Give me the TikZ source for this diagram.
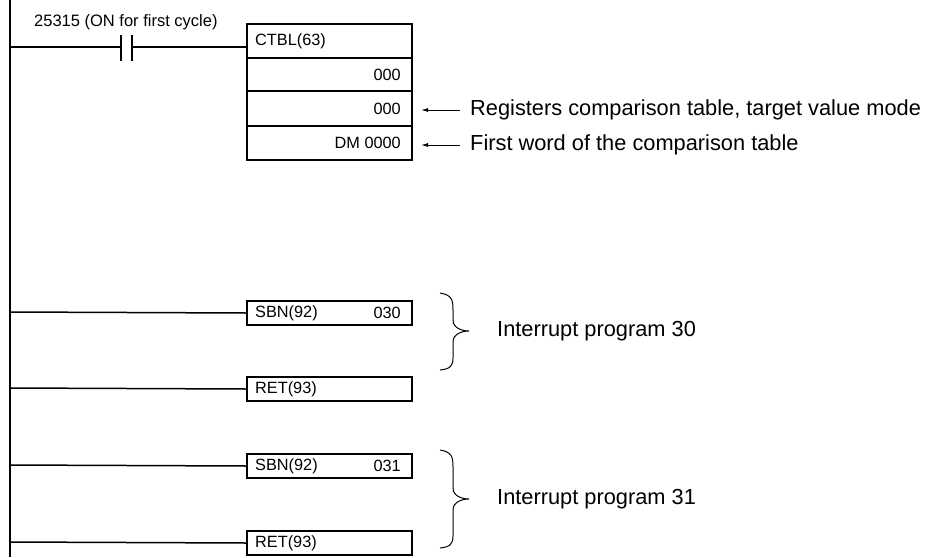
\documentclass[tikz,border=0pt]{standalone}
\usepackage{fontspec}
\setmainfont{Liberation Sans}
\usetikzlibrary{arrows.meta}
\begin{document}
\begin{tikzpicture}[x=1pt,y=-1pt,
  box/.style={draw,line width=2pt,minimum width=165pt,inner sep=0pt,anchor=north west},
  bt/.style={font=\fontsize{16.3}{17}\selectfont,inner sep=0pt},
  wire/.style={line width=1.5pt},
  note/.style={anchor=west,font=\fontsize{21.8}{22}\selectfont,inner sep=0pt},
  arr/.style={-{Latex[length=7pt,width=4pt]},line width=1pt}]
\useasboundingbox (0,0) rectangle (926,557);
\draw[line width=2.2pt] (10,0) coordinate (rt) -- (10,557) coordinate (rb);
% first rung
\node[inner sep=0,font=\fontsize{16.5}{17}\selectfont,anchor=west] (lab) at (34,22) {25315 (ON for first cycle)};
\node[box,minimum height=34pt] (c1) at (246,23) {};
\node[bt,anchor=west] at ([xshift=9pt]c1.west) {CTBL(63)};
\node[box,minimum height=33pt] (c2) at (246,57) {};
\node[bt,anchor=east] at ([xshift=-12pt]c2.east) {000};
\node[box,minimum height=35pt] (c3) at (246,90) {};
\node[bt,anchor=east] at ([xshift=-12pt]c3.east) {000};
\node[box,minimum height=34pt] (c4) at (246,125) {};
\node[bt,anchor=east] at ([xshift=-12pt]c4.east) {DM 0000};
\coordinate (k1) at (121,47); \coordinate (k2) at (132,47); \coordinate (ce) at (246,47);
\draw[wire] (10,47) -- (k1) (k2) -- (ce);
\draw[line width=2.4pt] (95,47) -- (k1) (k2) -- (158,47);
\draw[line width=2.4pt] (121,35) -- (121,61) (132,35) -- (132,61);
\node[note] (n1) at (470,110) {Registers comparison table, target value mode};
\node[note] (n2) at (470,145) {First word of the comparison table};
\draw[arr] (n1.west) ++(-10,0) -- (421,110);
\draw[arr] (n2.west) ++(-10,0) -- (421,145);
% interrupt 30
\node[box,minimum height=24pt] (s1) at (246,300) {};
\node[bt,anchor=west] at ([xshift=9pt]s1.west) {SBN(92)};
\node[bt,anchor=east] at ([xshift=-12pt]s1.east) {030};
\node[box,minimum height=24pt] (r1) at (246,376) {};
\node[bt,anchor=west] at ([xshift=9pt]r1.west) {RET(93)};
\draw[wire] (10,312) -- (s1.west) (10,388) -- (r1.west);
\draw[line width=1pt] (440,293) .. controls (452,295) and (453,300) .. (453,310) -- (453,320) .. controls (453,328) and (462,331) .. (469,331) .. controls (462,331) and (453,334) .. (453,342) -- (453,358) .. controls (453,366) and (450,369) .. (440,370);
\node[note] at (497,331) {Interrupt program 30};
% interrupt 31
\node[box,minimum height=24pt] (s2) at (246,453) {};
\node[bt,anchor=west] at ([xshift=9pt]s2.west) {SBN(92)};
\node[bt,anchor=east] at ([xshift=-12pt]s2.east) {031};
\node[box,minimum height=24pt] (r2) at (246,530) {};
\node[bt,anchor=west] at ([xshift=9pt]r2.west) {RET(93)};
\draw[wire] (10,465) -- (s2.west) (10,542) -- (r2.west);
\draw[line width=1pt] (440,450) .. controls (452,452) and (453,457) .. (453,467) -- (453,488) .. controls (453,496) and (462,499) .. (469,499) .. controls (462,499) and (453,502) .. (453,510) -- (453,536) .. controls (453,544) and (450,547) .. (440,548);
\node[note] at (497,499) {Interrupt program 31};
\end{tikzpicture}
\end{document}
